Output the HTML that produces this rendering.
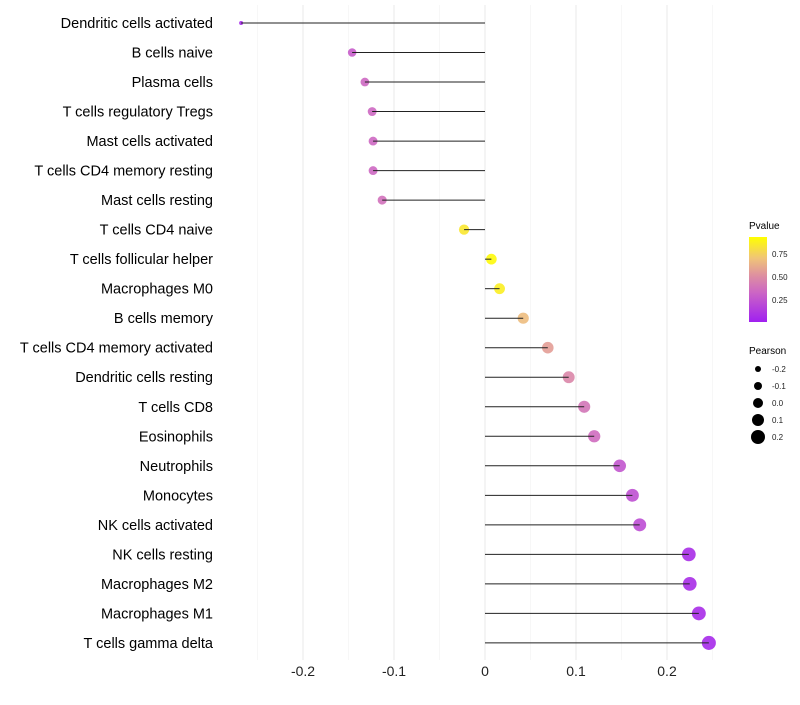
<!DOCTYPE html>
<html><head><meta charset="utf-8"><style>
body{margin:0;background:#fff;font-family:"Liberation Sans",sans-serif}
svg text{font-family:"Liberation Sans",sans-serif}
</style></head><body>
<svg id="c" width="800" height="700">
<defs><linearGradient id="pg" x1="0" y1="1" x2="0" y2="0">
<stop offset="0" stop-color="#A020F0"/><stop offset="0.35" stop-color="#CC66C4"/><stop offset="0.55" stop-color="#DE90A0"/><stop offset="0.75" stop-color="#F0C478"/><stop offset="1" stop-color="#FFFF00"/>
</linearGradient></defs>
<g id="grid"></g><g id="marks"></g><g id="labels"></g>
<g>
<text x="749" y="229" font-size="10" fill="#000">Pvalue</text>
<rect x="749" y="237" width="18" height="85" fill="url(#pg)"/>
<text x="772" y="257" font-size="8" fill="#222">0.75</text>
<text x="772" y="280" font-size="8" fill="#222">0.50</text>
<text x="772" y="303" font-size="8" fill="#222">0.25</text>
</g>
<g id="sizeleg">
<text x="749" y="354" font-size="10" fill="#000">Pearson</text>
</g>
</svg>
<script>
const categories=["Dendritic cells activated","B cells naive","Plasma cells","T cells regulatory  Tregs","Mast cells activated","T cells CD4 memory resting","Mast cells resting","T cells CD4 naive","T cells follicular helper","Macrophages M0","B cells memory","T cells CD4 memory activated","Dendritic cells resting","T cells CD8","Eosinophils","Neutrophils","Monocytes","NK cells activated","NK cells resting","Macrophages M2","Macrophages M1","T cells gamma delta"];
const pearson=[-0.268,-0.146,-0.132,-0.124,-0.123,-0.123,-0.113,-0.023,0.007,0.016,0.042,0.069,0.092,0.109,0.12,0.148,0.162,0.17,0.224,0.225,0.235,0.246];
const pvalue=[0.05,0.3,0.36,0.36,0.36,0.36,0.4,0.9,0.98,0.93,0.72,0.6,0.5,0.42,0.38,0.27,0.24,0.22,0.07,0.07,0.06,0.05];
const xTicks=[-0.2,-0.1,0,0.1,0.2];
const sizeLegend=[-0.2,-0.1,0.0,0.1,0.2];
const NS="http://www.w3.org/2000/svg";
const X=v=>485+v*910, Y=i=>23+i*29.52;
const R=v=>v<-0.2?2:5.3+7*v;
const stops=[[0,[160,32,240]],[0.35,[204,102,196]],[0.55,[222,144,160]],[0.75,[240,196,120]],[1,[255,255,0]]];
function col(p){const t=Math.min(1,Math.max(0,p));for(let k=1;k<stops.length;k++){if(t<=stops[k][0]){const a=stops[k-1],b=stops[k];const f=(t-a[0])/(b[0]-a[0]);return `rgb(${a[1].map((v,j)=>Math.round(v+(b[1][j]-v)*f)).join(",")})`;}}return "rgb(255,255,0)";}
function mk(tag,at,par){const e=document.createElementNS(NS,tag);for(const k in at)e.setAttribute(k,at[k]);par.appendChild(e);return e;}
const grid=document.getElementById("grid"),marks=document.getElementById("marks"),labels=document.getElementById("labels");
for(let k=-5;k<=5;k++){const v=k*0.05;const g=mk("line",{x1:X(v),x2:X(v),y1:5,y2:660,stroke:k%2?"#f2f2f2":"#ebebeb","stroke-width":k%2?0.6:1.1},grid);}
xTicks.forEach(v=>{const t=mk("text",{x:X(v),y:676,"font-size":14,"text-anchor":"middle",fill:"#222"},labels);t.textContent=String(v);});
categories.forEach((c,i)=>{
const t=mk("text",{x:213,y:Y(i)+5,"font-size":14.5,"text-anchor":"end",fill:"#000"},labels);t.textContent=c;

const p=mk("circle",{cx:X(pearson[i]),cy:Y(i),r:R(pearson[i]),fill:col(pvalue[i]),"fill-opacity":0.9},marks);

const l=mk("line",{x1:X(0),x2:X(pearson[i]),y1:Y(i),y2:Y(i),stroke:"#222","stroke-width":1},marks);

});
const sl=document.getElementById("sizeleg");
const LR=[3,4,5,6,7];
sizeLegend.forEach((v,i)=>{const y=369+i*17;
const c=mk("circle",{cx:758,cy:y,r:LR[i],fill:"#000"},sl);
const t=mk("text",{x:772,y:y+3,"font-size":8,fill:"#222"},sl);t.textContent=v.toFixed(1);});
</script>
</body></html>
